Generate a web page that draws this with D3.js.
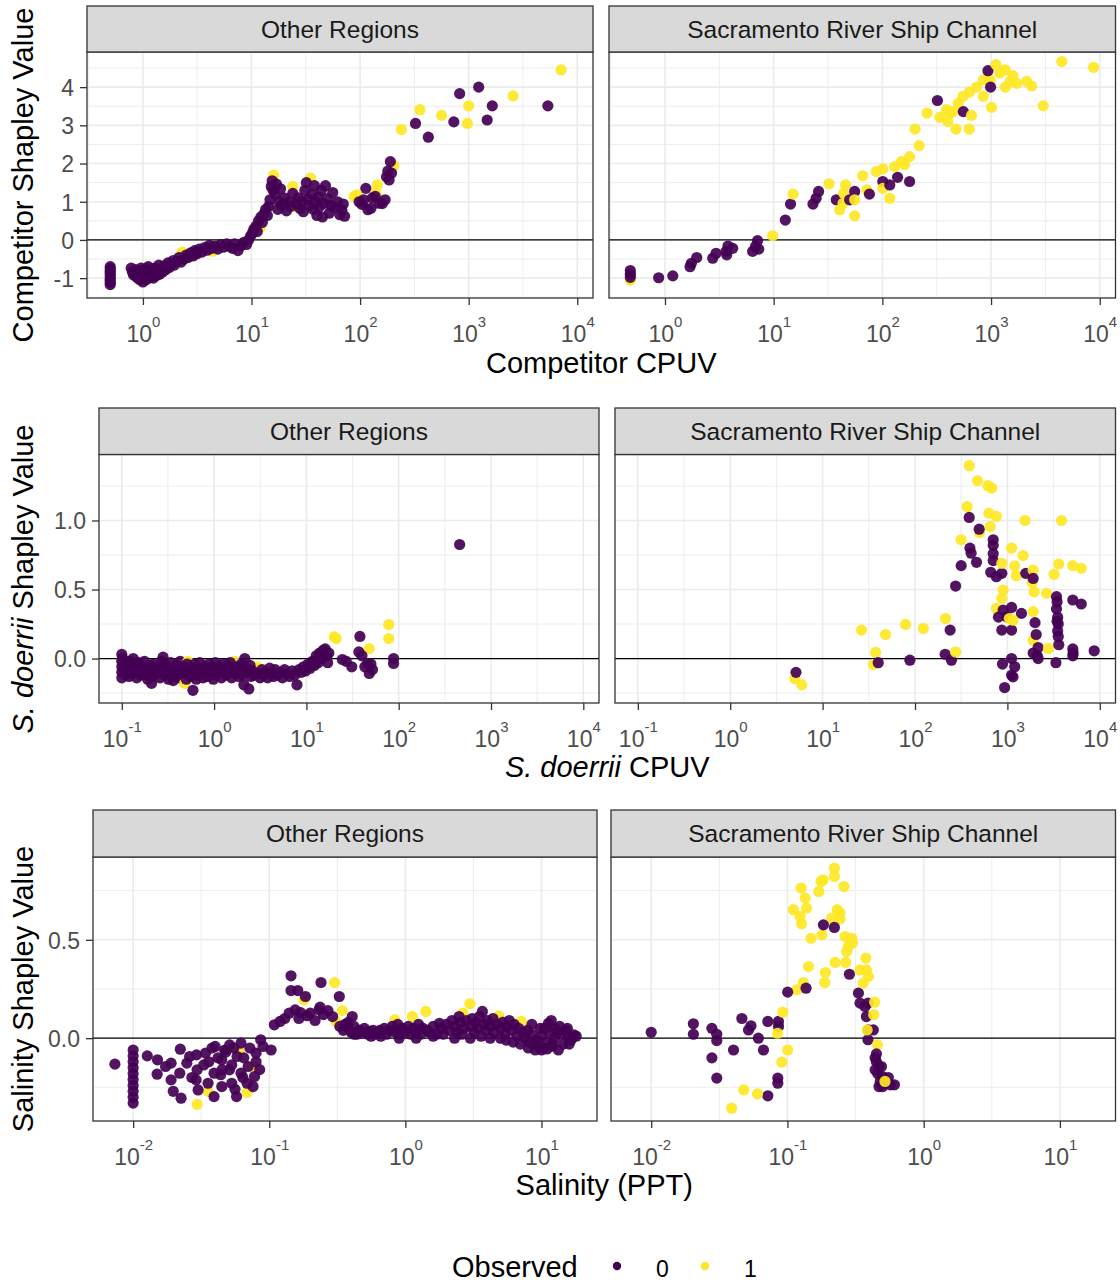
<!DOCTYPE html>
<html>
<head>
<meta charset="utf-8">
<script src="https://cdn.jsdelivr.net/npm/d3@7"></script>
<style>
  body { margin: 0; background: #ffffff; }
  svg { display: block; }
  text { font-family: "Liberation Sans", Arial, sans-serif; }
</style>
</head>
<body>
<svg id="chart" width="1120" height="1283"></svg>
<script>
// Facet labels
const regions = ["Other Regions", "Sacramento River Ship Channel"];
const observedLevels = ["0", "1"];

// Each point: [predictor value, Shapley value, observed (0/1)]
const competitorOther = [
  [0.5,-0.7,0],[0.5,-0.76,0],[0.5,-0.82,0],[0.5,-0.88,0],[0.5,-0.94,0],[0.5,-1.0,0],[0.5,-1.06,0],[0.5,-1.12,0],[0.5,-1.17,0],
  [2.3,-0.32,1],[4.4,-0.3,1],[12.0,0.32,1],[16.0,1.7,1],[24,1.4,1],[25,0.87,1],[35,1.62,1],
  [0.78,-0.74,0],[0.8,-0.84,0],[0.82,-0.92,0],[0.86,-0.78,0],[0.88,-0.98,0],[0.9,-0.86,0],[0.93,-1.04,0],[0.96,-0.74,0],
  [0.98,-0.95,0],[1.0,-1.1,0],[1.0,-1.0,0],[1.02,-0.84,0],[1.05,-0.76,0],[1.08,-1.04,0],[1.1,-0.92,0],[1.12,-0.7,0],
  [1.15,-0.98,0],[1.18,-0.8,0],[1.22,-0.9,0],[1.25,-1.0,0],[1.28,-0.74,0],[1.32,-0.94,0],[1.35,-0.82,0],[1.4,-0.66,0],
  [1.42,-0.9,0],[1.48,-0.76,0],[1.52,-0.84,0],[1.58,-0.68,0],[1.62,-0.78,0],[1.7,-0.6,0],[1.75,-0.72,0],[1.82,-0.64,0],
  [1.9,-0.54,0],[1.95,-0.66,0],[2.05,-0.56,0],[2.15,-0.46,0],[2.25,-0.58,0],[2.4,-0.5,0],[2.5,-0.4,0],[2.6,-0.46,0],
  [2.75,-0.34,0],[2.9,-0.42,0],[3.0,-0.28,0],[3.15,-0.36,0],[3.3,-0.24,0],[3.5,-0.32,0],[3.7,-0.2,0],[3.9,-0.27,0],
  [4.1,-0.14,0],[4.3,-0.22,0],[4.6,-0.16,0],[4.9,-0.24,0],[5.2,-0.12,0],[5.5,-0.19,0],[5.9,-0.1,0],[6.3,-0.17,0],
  [6.7,-0.22,0],[7.0,-0.1,0],[7.5,-0.28,0],[8.0,-0.15,0],[8.5,-0.06,0],[9.0,-0.12,0],[9.4,0.0,0],[9.8,0.1,0],
  [10.2,0.18,0],[10.5,0.28,0],[11.0,0.36,0],[11.3,0.22,0],[11.6,0.5,0],[12.2,0.6,0],[12.6,0.46,0],[13.0,0.68,0],
  [13.5,0.8,0],[14.0,0.64,0],[14.4,0.88,0],[14.8,1.05,0],[15.2,1.4,0],[15.5,1.55,0],[15.8,1.3,0],[16.5,1.2,0],
  [17,1.46,0],[17.5,0.8,0],[18,1.0,0],[18.5,1.34,0],[19,0.9,0],[20,1.1,0],[21,0.76,0],[22,1.0,0],[23,0.88,0],
  [24,1.22,0],[26,0.95,0],[27,1.1,0],[28,0.82,0],[29,1.02,0],[30,0.74,0],[31,1.3,0],[32,1.5,0],[33,1.06,0],
  [34,0.9,0],[36,1.2,0],[37,0.8,0],[38,1.42,0],[39,1.0,0],[40,0.64,0],[41,1.12,0],[42,0.86,0],[44,1.3,0],
  [45,0.6,0],[46,0.95,0],[48,1.42,0],[50,1.08,0],[52,0.7,0],[54,0.9,0],[56,1.24,0],[58,0.86,0],[62,1.0,0],
  [65,0.66,0],[68,0.78,0],[70,0.94,0],[72,0.62,0],
  [88,1.14,1],[94,1.18,1],[140,1.22,1],[144,1.44,1],[205,1.95,1],
  [98,1.0,0],[104,0.93,0],[108,1.05,0],[113,1.35,0],[118,0.79,0],[126,0.83,0],[130,1.1,0],[138,1.14,0],
  [150,0.96,0],[160,0.95,0],[170,1.05,0],[175,1.65,0],[180,1.8,0],[185,1.57,0],[190,2.05,0],[195,1.75,0],
  [240,2.89,1],[324,3.05,0],[356,3.41,1],[425,2.69,0],[563,3.26,1],[730,3.09,0],[826,3.83,0],[974,3.05,1],
  [1000,3.51,1],[1237,4.0,0],[1480,3.14,0],[1650,3.51,0],[2570,3.77,1],[5360,3.51,0],[7100,4.45,1]
];

const competitorShip = [
  [0.48,-1.05,1],[0.48,-0.8,0],[0.48,-0.9,0],[0.48,-0.98,0],
  [0.875,-0.99,0],[1.18,-0.94,0],[1.7,-0.7,0],[1.75,-0.61,0],[1.96,-0.46,0],
  [2.75,-0.48,0],[2.95,-0.35,0],[3.65,-0.3,0],[3.8,-0.16,0],[4.2,-0.22,0],[3.7,-0.39,0],
  [6.4,-0.3,0],[7.1,-0.02,0],[7.3,-0.24,0],[6.8,-0.17,0],
  [9.8,0.11,1],[12.8,0.52,0],[14.3,0.94,0],[15.1,1.2,1],
  [23,0.94,0],[24.6,1.09,0],[25.9,1.27,0],[32.3,1.47,1],
  [37.7,1.05,0],[40.5,0.79,1],[43.5,0.96,1],[45.8,1.44,1],[44,1.22,1],[50,1.05,0],[55.6,1.27,0],[55.6,1.05,1],[55.6,0.63,1],
  [66,1.68,1],[72,1.31,1],[76,1.2,0],
  [88,1.79,1],[101,1.86,1],[101,1.53,0],[101,1.35,1],[117,1.44,0],[117,1.09,1],[138,1.64,0],[130,1.92,1],
  [150,2.05,1],[160,1.97,1],[178,2.18,1],[178,1.53,0],
  [200,2.9,1],[218,2.47,1],[258,3.32,1],[321,3.65,0],
  [338,3.21,1],[389,3.41,1],[400,3.1,1],[447,3.36,1],[476,2.9,1],[420,3.32,1],[500,3.58,1],[553,3.76,1],
  [556,3.36,0],[634,3.87,1],[630,2.9,1],[660,3.26,1],[737,4.0,1],[850,4.19,1],[850,3.76,1],[980,4.19,1],
  [937,4.43,0],[990,4.0,0],[1010,3.47,1],[1110,4.59,1],[1200,4.37,1],[1350,4.45,1],[1350,4.0,1],[1500,4.15,1],
  [1590,4.3,1],[1720,4.1,1],[2130,4.15,1],[2360,4.03,1],[3020,3.51,1],[4480,4.67,1],[8770,4.52,1]
];

const doerriiOther = [
  [0.1,0.03,0],[0.1,-0.02,0],[0.1,-0.06,0],[0.1,-0.1,0],[0.1,-0.14,0],[0.102,0.0,0],[0.105,-0.08,0],
  [0.11,-0.12,0],[0.112,-0.04,0],[0.115,-0.09,0],[0.12,-0.13,0],[0.122,-0.02,0],[0.125,-0.07,0],
  [0.13,-0.11,0],[0.133,0.0,0],[0.137,-0.05,0],[0.14,-0.1,0],[0.145,-0.14,0],[0.15,-0.03,0],[0.155,-0.08,0],
  [0.16,-0.12,0],[0.165,-0.06,0],[0.17,-0.1,0],[0.176,-0.02,0],[0.18,-0.07,0],[0.186,-0.12,0],[0.19,-0.15,0],
  [0.2,-0.05,0],[0.205,-0.09,0],[0.21,-0.18,0],[0.215,-0.13,0],[0.22,-0.04,0],[0.23,-0.08,0],[0.24,-0.11,0],
  [0.25,-0.06,0],[0.26,-0.14,0],[0.27,-0.02,0],[0.28,0.01,0],[0.285,-0.09,0],[0.29,-0.12,0],[0.3,-0.05,0],
  [0.31,-0.1,0],[0.32,-0.15,0],[0.33,-0.07,0],[0.34,-0.03,0],[0.35,-0.11,0],[0.36,-0.16,0],[0.37,-0.08,0],
  [0.38,-0.13,0],[0.39,-0.05,0],[0.4,-0.1,0],[0.42,-0.14,0],[0.43,-0.02,0],[0.44,-0.08,0],[0.46,-0.12,0],
  [0.48,-0.18,1],[0.52,-0.02,1],[1.65,-0.02,1],[2.8,-0.08,1],[2.9,-0.06,1],
  [0.47,-0.06,0],[0.49,-0.1,0],[0.5,-0.15,0],[0.51,-0.04,0],[0.53,-0.09,0],[0.55,-0.13,0],[0.57,-0.07,0],
  [0.59,-0.23,0],[0.6,-0.11,0],[0.62,-0.04,0],[0.64,-0.15,0],[0.66,-0.08,0],[0.68,-0.12,0],[0.7,-0.03,0],
  [0.73,-0.1,0],[0.76,-0.14,0],[0.79,-0.06,0],[0.82,-0.09,0],[0.85,-0.13,0],[0.88,-0.04,0],[0.92,-0.11,0],
  [0.95,-0.07,0],[0.98,-0.15,0],[1.0,-0.09,0],[1.03,-0.03,0],[1.07,-0.12,0],[1.1,-0.06,0],[1.15,-0.1,0],
  [1.2,-0.14,0],[1.25,-0.04,0],[1.3,-0.08,0],[1.35,-0.12,0],[1.4,-0.05,0],[1.45,-0.1,0],[1.5,-0.03,0],
  [1.55,-0.14,0],[1.6,-0.07,0],[1.7,-0.11,0],[1.78,-0.06,0],[1.85,-0.13,0],[1.9,-0.09,0],[1.98,-0.04,0],
  [2.05,-0.12,0],[2.1,-0.19,0],[2.15,0.0,0],[2.2,-0.07,0],[2.3,-0.1,0],[2.38,-0.22,0],[2.45,-0.05,0],
  [2.5,-0.13,0],[2.6,-0.09,0],[2.7,-0.12,0],[3.0,-0.11,0],[3.15,-0.14,0],[3.3,-0.08,0],[3.45,-0.12,0],
  [3.6,-0.1,0],[3.8,-0.14,0],[4.0,-0.07,0],[4.2,-0.11,0],[4.4,-0.13,0],[4.6,-0.08,0],[4.9,-0.12,0],
  [5.2,-0.1,0],[5.5,-0.14,0],[5.8,-0.08,0],[6.2,-0.11,0],[6.6,-0.13,0],[7.0,-0.09,0],[7.5,-0.12,0],
  [7.9,-0.19,0],[8.3,-0.08,0],[8.8,-0.1,0],[9.3,-0.06,0],[9.8,-0.09,0],[10.4,-0.04,0],[11.0,-0.07,0],
  [11.6,-0.02,0],[12.2,-0.05,0],[12.8,0.02,0],[13.4,-0.03,0],[13.9,0.04,0],[14.5,0.0,0],[15.2,0.06,0],
  [16.0,0.07,0],[16.5,0.02,0],[17,-0.03,0],[17.5,0.04,0],
  [20,0.157,1],[21,0.145,1],[48,0.072,1],[78,0.246,1],[78,0.145,1],
  [24.5,-0.007,0],[27,-0.02,0],[31,-0.06,0],[38,0.16,0],[37,0.048,0],[40,0.02,0],[43,-0.06,0],[46,-0.036,0],
  [48,-0.108,0],[50,-0.04,0],[52,-0.08,0],[88,0.0,0],[88,-0.036,0],[457,0.826,0]
];

const doerriiShip = [
  [5.0,-0.145,1],[5.94,-0.19,1],[5.15,-0.1,0],
  [26.4,0.206,1],[37.5,0.044,1],[35.5,-0.044,1],[40,-0.03,0],[48,0.174,1],[79,0.247,1],[88,-0.012,0],[123,0.218,1],
  [214,0.29,1],[212,0.031,0],[240,0.206,0],[248,-0.012,0],[275,0.048,1],[275,0.525,0],
  [316,0.86,1],[316,0.673,0],[367,1.1,1],[386,1.397,1],[386,1.022,0],[393,0.8,0],[405,0.763,0],[463,0.697,0],
  [475,1.288,1],[500,0.913,1],[495,0.937,0],
  [616,1.252,1],[676,1.235,1],[631,1.053,1],[760,1.03,1],[650,0.956,1],
  [702,0.86,0],[702,0.82,0],[702,0.76,0],[702,0.71,0],[660,0.625,0],[760,0.593,0],[870,0.617,0],
  [870,0.69,1],[900,0.496,1],[870,0.436,1],[760,0.363,1],
  [900,0.351,0],[1110,0.37,0],[990,0.3,0],[800,0.3,0],[870,0.206,0],[1110,0.206,0],[1420,0.327,0],
  [1050,0.29,1],[1150,0.278,1],
  [885,-0.04,0],[1110,0,0],[1200,-0.06,0],[1110,-0.12,0],[1150,-0.133,0],[933,-0.21,0],
  [1110,0.8,1],[1200,0.67,1],[1250,0.6,1],[1550,1.0,1],[1480,0.746,1],[1580,0.617,0],[1900,0.64,1],
  [1850,0.55,1],[1950,0.484,1],[1900,0.58,0],
  [1900,0.34,1],[1900,0.133,1],[1990,0.26,0],[2050,0.174,0],[1900,0.04,0],[2100,0.02,0],[2150,0.08,0],
  [2150,0.0,0],[2780,0.073,1],
  [2650,0.472,1],[3200,0.61,1],[3600,0.685,1],[3850,1.0,1],
  [3400,0.448,0],[3450,0.41,0],[3400,0.36,0],[3500,0.3,0],[3450,0.27,0],[3550,0.25,0],[3500,0.2,0],
  [3550,0.16,0],[3600,0.1,0],[3350,-0.03,0],
  [5100,0.673,1],[6300,0.654,1],
  [5100,0.424,0],[6300,0.395,0],[5100,0.07,0],[5150,0.04,0],[5100,0.02,0],[8700,0.056,0]
];

const salinityOther = [
  [0.0295,-0.336,1],[0.0355,-0.27,1],[0.06,-0.068,1],[0.0687,-0.276,1],[0.0759,-0.144,1],
  [0.00734,-0.132,0],
  [0.01,-0.06,0],[0.01,-0.09,0],[0.01,-0.12,0],[0.01,-0.15,0],[0.01,-0.18,0],[0.01,-0.21,0],[0.01,-0.24,0],
  [0.01,-0.27,0],[0.01,-0.3,0],[0.01,-0.33,0],
  [0.0127,-0.09,0],[0.0151,-0.11,0],[0.015,-0.183,0],[0.0173,-0.144,0],[0.019,-0.127,0],[0.019,-0.212,0],
  [0.0197,-0.27,0],[0.0222,-0.056,0],[0.0225,-0.305,0],[0.022,-0.178,0],[0.0248,-0.127,0],[0.026,-0.093,0],
  [0.0292,-0.085,0],[0.0295,-0.161,0],[0.029,-0.212,0],[0.03,-0.263,0],[0.034,-0.076,0],[0.033,-0.136,0],
  [0.0393,-0.297,0],[0.038,-0.05,0],[0.04,-0.042,0],[0.0448,-0.246,0],[0.044,-0.186,0],[0.0448,-0.11,0],
  [0.047,-0.06,0],[0.0512,-0.034,0],[0.053,-0.136,0],[0.0575,-0.297,0],[0.058,-0.093,0],[0.062,-0.025,0],
  [0.0687,-0.229,0],[0.07,-0.144,0],[0.078,-0.195,0],[0.08,-0.076,0],[0.0865,-0.008,0],[0.09,-0.042,0],
  [0.1032,-0.06,0],[0.053,-0.229,0],[0.051,-0.161,0],[0.062,-0.178,0],[0.076,-0.246,0],[0.0393,-0.178,0],
  [0.0355,-0.229,0],[0.042,-0.1,0],[0.045,-0.16,0],[0.048,-0.07,0],[0.055,-0.05,0],[0.065,-0.1,0],
  [0.072,-0.05,0],[0.08,-0.12,0],[0.085,-0.16,0],[0.036,-0.12,0],[0.027,-0.2,0],[0.064,-0.2,0],[0.056,-0.26,0],
  [0.18,0.195,1],[0.302,0.283,1],[0.344,0.14,1],[0.31,0.085,1],
  [0.109,0.068,0],[0.12,0.085,0],[0.13,0.1,0],[0.1445,0.242,0],[0.14,0.127,0],[0.1445,0.317,0],[0.162,0.242,0],
  [0.155,0.144,0],[0.1845,0.212,0],[0.19,0.114,0],[0.2,0.127,0],[0.217,0.09,0],[0.232,0.144,0],[0.24,0.283,0],
  [0.236,0.158,0],[0.292,0.11,0],[0.327,0.212,0],[0.407,0.11,0],[0.17,0.13,0],[0.165,0.1,0],[0.25,0.12,0],
  [0.27,0.14,0],
  [0.837,0.093,1],[1.125,0.11,1],[1.416,0.136,1],[2.65,0.127,1],[2.98,0.175,1],[4.85,0.114,1],[7.1,0.085,1],
  [10.5,0.03,1],
  [0.33,0.06,0],[0.35,0.04,0],[0.36,0.07,0],[0.38,0.05,0],[0.4,0.03,0],[0.42,0.06,0],[0.44,0.02,0],[0.46,0.04,0],
  [0.48,0.03,0],[0.5,0.05,0],[0.53,0.02,0],[0.56,0.01,0],[0.58,0.04,0],[0.6,0.02,0],[0.63,0.03,0],[0.66,0.01,0],
  [0.7,0.05,0],[0.73,0.02,0],[0.76,0.04,0],[0.8,0.06,0],[0.85,0.03,0],[0.88,0.07,0],[0.9,0.02,0],[0.95,0.05,0],
  [1.0,0.03,0],[1.05,0.06,0],[1.1,0.02,0],[1.15,0.05,0],[1.2,0.03,0],[1.25,0.07,0],[1.3,0.02,0],[1.35,0.05,0],
  [1.45,0.04,0],[1.5,0.03,0],[1.6,0.06,0],[1.7,0.02,0],[1.78,0.076,0],[1.85,0.05,0],[1.9,0.02,0],[2.0,0.07,0],
  [2.1,0.04,0],[2.2,0.09,0],[2.3,0.06,0],[2.4,0.03,0],[2.48,0.11,0],[2.55,0.08,0],[2.7,0.05,0],[2.8,0.09,0],
  [3.0,0.06,0],[3.1,0.1,0],[3.2,0.03,0],[3.3,0.08,0],[3.4,0.05,0],[3.5,0.11,0],[3.68,0.136,0],[3.8,0.07,0],
  [3.9,0.04,0],[4.0,0.09,0],[4.2,0.06,0],[4.4,0.1,0],[4.5,0.03,0],[4.7,0.07,0],[5.0,0.05,0],[5.2,0.08,0],
  [5.4,0.02,0],[5.6,0.06,0],[5.8,0.09,0],[6.0,0.04,0],[6.3,0.07,0],[6.6,0.01,0],[6.8,0.05,0],[7.3,0.03,0],
  [7.6,0.0,0],[7.9,0.04,0],[8.2,-0.02,0],[8.5,0.02,0],[8.8,-0.03,0],[9.25,-0.008,0],[9.5,-0.04,0],[10,0.01,0],
  [10.4,-0.05,0],[10.8,-0.02,0],[11.25,0.076,0],[11.5,0.03,0],[12,-0.04,0],[12.5,0.0,0],[13.3,-0.06,0],
  [13.6,0.06,0],[14,0.02,0],[14.5,-0.03,0],[15,0.04,0],[15.8,0.008,0],[16.5,-0.01,0],[17.3,0.017,0],[18,0.01,0],
  [2.3,0.0,0],[2.6,0.02,0],[3.0,0.0,0],[3.6,0.01,0],[4.2,0.0,0],[5.0,0.0,0],[5.5,-0.01,0],[6.2,-0.02,0],
  [7.0,-0.03,0],[8.0,-0.05,0],[9.0,-0.06,0],[10,-0.06,0],[11,-0.055,0],[12,-0.03,0],[9.8,0.05,0],[8.5,0.07,0],
  [10.5,0.05,0],[12.5,0.05,0],[11.8,0.09,0],[13,0.03,0],[15.5,0.05,0],[16,-0.03,0],[0.65,0.04,0],[0.9,0.0,0],
  [1.2,0.0,0],[1.6,0.01,0],[0.55,0.035,0],[0.42,0.02,0],[0.38,0.08,0]
];

const salinityShip = [
  [0.01,0.03,0],[0.0204,0.073,0],[0.0204,0.02,0],[0.0279,0.05,0],[0.0303,0.02,0],[0.0303,-0.012,0],
  [0.0279,-0.1,0],[0.0303,-0.203,0],
  [0.0402,-0.06,0],[0.0463,0.1,0],[0.0518,0.042,0],[0.054,0.063,0],[0.0612,0,0],[0.0667,-0.06,0],
  [0.0718,0.085,0],[0.0718,-0.293,0],[0.0859,0.085,0],[0.086,0.06,0],[0.085,-0.203,0],[0.085,-0.229,0],
  [0.039,-0.356,1],[0.0478,-0.263,1],[0.0603,-0.283,1],
  [0.0846,0.025,1],[0.0925,0.132,1],[0.091,-0.122,1],[0.1004,-0.06,1],
  [0.117,0.246,1],[0.131,0.283,1],[0.1427,0.364,1],[0.149,0.508,1],[0.1105,0.653,1],[0.124,0.619,1],
  [0.127,0.581,1],[0.126,0.763,1],[0.135,0.712,1],[0.138,0.661,1],
  [0.1004,0.234,0],[0.137,0.254,0],
  [0.17,0.746,1],[0.1766,0.797,1],[0.183,0.805,1],[0.221,0.864,1],[0.221,0.822,1],[0.26,0.771,1],
  [0.179,0.525,1],[0.211,0.61,1],[0.232,0.653,1],[0.243,0.636,1],[0.243,0.605,1],
  [0.1837,0.576,0],[0.221,0.563,0],
  [0.265,0.517,1],[0.297,0.508,1],[0.28,0.466,1],[0.272,0.44,1],[0.3,0.483,1],
  [0.224,0.385,1],[0.268,0.385,1],[0.19,0.334,1],[0.188,0.283,1],
  [0.285,0.325,0],
  [0.376,0.407,1],[0.341,0.347,1],[0.38,0.347,1],[0.393,0.314,1],[0.36,0.28,1],
  [0.332,0.229,0],[0.341,0.178,0],[0.371,0.161,0],[0.38,0.11,0],[0.39,0.178,0],[0.393,0.042,0],
  [0.427,0.042,0],[0.39,-0.008,0],
  [0.437,0.183,1],[0.43,0.119,1],[0.457,-0.034,1],[0.385,0.042,1],
  [0.44,-0.1,0],[0.45,-0.12,0],[0.47,-0.144,0],[0.44,-0.161,0],[0.46,-0.18,0],[0.49,-0.144,0],
  [0.5,-0.195,0],[0.48,-0.22,0],[0.52,-0.229,0],[0.57,-0.237,0],[0.61,-0.237,0],[0.55,-0.2,0],
  [0.47,-0.246,0],[0.5,-0.246,0],[0.45,-0.08,0],
  [0.52,-0.22,1]
];

// Tick values and labels
const competitorYTicks = [-1, 0, 1, 2, 3, 4];
const doerriiYTicks = [0, 0.5, 1.0];
const salinityYTicks = [0, 0.5];
const competitorXExp = [0, 1, 2, 3, 4];
const doerriiXExp = [-1, 0, 1, 2, 3, 4];
const salinityXExp = [-2, -1, 0, 1];

const colors = { "0": "#440154", "1": "#FDE725" };

// Layout of the three faceted rows
const rows = [
  {
    stripTop: 6, panelTop: 52, panelBottom: 298,
    panels: [[87, 593], [609, 1115.5]],
    xLog: [-0.515, 4.145], yDom: [-1.52, 4.92],
    yTicks: competitorYTicks, yFmt: d => d < 0 ? "-" + Math.abs(d) : String(d), yStep: 1,
    xExp: competitorXExp, data: [competitorOther, competitorShip],
    xTitle: [["Competitor CPUV", false]], yTitle: [["Competitor Shapley Value", false]],
    xTitleY: 373, yTitleCy: 175
  },
  {
    stripTop: 408, panelTop: 454.5, panelBottom: 703,
    panels: [[99, 599], [615, 1115.5]],
    xLog: [-1.247, 4.17], yDom: [-0.322, 1.478],
    yTicks: doerriiYTicks, yFmt: d3.format(".1f"), yStep: 0.5,
    xExp: doerriiXExp, data: [doerriiOther, doerriiShip],
    xTitle: [["S. doerrii", true], [" CPUV", false]],
    yTitle: [["S. doerrii", true], [" Shapley Value", false]],
    xTitleY: 777, yTitleCy: 579
  },
  {
    stripTop: 810, panelTop: 857, panelBottom: 1121,
    panels: [[93, 597], [611, 1115.5]],
    xLog: [-2.295, 1.408], yDom: [-0.421, 0.921],
    yTicks: salinityYTicks, yFmt: d3.format(".1f"), yStep: 0.5,
    xExp: salinityXExp, data: [salinityOther, salinityShip],
    xTitle: [["Salinity (PPT)", false]], yTitle: [["Salinity Shapley Value", false]],
    xTitleY: 1195, yTitleCy: 989
  }
];

const svg = d3.select("#chart");
svg.append("rect").attr("width", 1120).attr("height", 1283).attr("fill", "#ffffff");

const gridColor = "#EBEBEB";
const borderColor = "#333333";

function addRichText(textSel, parts) {
  parts.forEach(([str, italic]) => {
    textSel.append("tspan")
      .attr("font-style", italic ? "italic" : "normal")
      .style("white-space", "pre")
      .text(str);
  });
}

rows.forEach(row => {
  row.panels.forEach((range, pi) => {
    const x = d3.scaleLog().domain([Math.pow(10, row.xLog[0]), Math.pow(10, row.xLog[1])]).range(range);
    const y = d3.scaleLinear().domain(row.yDom).range([row.panelBottom, row.panelTop]);
    const g = svg.append("g");
    const [x0, x1] = range;

    // minor grid: half-decades on x, half-steps on y
    const xMinor = [];
    for (let k = Math.floor(row.xLog[0]) - 1; k <= Math.ceil(row.xLog[1]); k++) {
      const v = k + 0.5;
      if (v > row.xLog[0] && v < row.xLog[1]) xMinor.push(Math.pow(10, v));
    }
    const yMinor = [];
    for (let v = row.yTicks[0] - row.yStep / 2; v < row.yDom[1]; v += row.yStep) {
      if (v > row.yDom[0]) yMinor.push(+v.toFixed(4));
    }
    g.selectAll(".xminor").data(xMinor).join("line")
      .attr("x1", d => x(d)).attr("x2", d => x(d))
      .attr("y1", row.panelTop).attr("y2", row.panelBottom)
      .attr("stroke", gridColor).attr("stroke-width", 0.9);
    g.selectAll(".yminor").data(yMinor).join("line")
      .attr("x1", x0).attr("x2", x1)
      .attr("y1", d => y(d)).attr("y2", d => y(d))
      .attr("stroke", gridColor).attr("stroke-width", 0.9);

    // major grid
    const xMajor = row.xExp.map(e => Math.pow(10, e));
    g.selectAll(".xmajor").data(xMajor).join("line")
      .attr("x1", d => x(d)).attr("x2", d => x(d))
      .attr("y1", row.panelTop).attr("y2", row.panelBottom)
      .attr("stroke", gridColor).attr("stroke-width", 1.6);
    g.selectAll(".ymajor").data(row.yTicks).join("line")
      .attr("x1", x0).attr("x2", x1)
      .attr("y1", d => y(d)).attr("y2", d => y(d))
      .attr("stroke", gridColor).attr("stroke-width", 1.6);

    // reference line at zero
    g.append("line")
      .attr("x1", x0).attr("x2", x1)
      .attr("y1", y(0)).attr("y2", y(0))
      .attr("stroke", "#000000").attr("stroke-width", 1.3);

    // points
    g.append("g").selectAll("circle").data(row.data[pi]).join("circle")
      .attr("cx", d => x(d[0]))
      .attr("cy", d => y(d[1]))
      .attr("r", 5.6)
      .attr("fill", d => colors[String(d[2])])
      .attr("fill-opacity", 0.92);

    // panel border
    g.append("rect")
      .attr("x", x0).attr("y", row.panelTop)
      .attr("width", x1 - x0).attr("height", row.panelBottom - row.panelTop)
      .attr("fill", "none").attr("stroke", borderColor).attr("stroke-width", 1.3);

    // strip
    g.append("rect")
      .attr("x", x0).attr("y", row.stripTop)
      .attr("width", x1 - x0).attr("height", row.panelTop - row.stripTop)
      .attr("fill", "#D9D9D9").attr("stroke", borderColor).attr("stroke-width", 1.3);
    g.append("text")
      .attr("x", (x0 + x1) / 2)
      .attr("y", (row.stripTop + row.panelTop) / 2 + 8.6)
      .attr("text-anchor", "middle")
      .attr("font-size", 24.5)
      .attr("fill", "#1A1A1A")
      .text(regions[pi]);

    // bottom axis with superscript powers of ten
    const xAxis = g.append("g")
      .attr("transform", `translate(0,${row.panelBottom})`)
      .call(d3.axisBottom(x).tickValues(xMajor).tickSize(7).tickFormat(""));
    xAxis.select(".domain").remove();
    xAxis.selectAll(".tick line").attr("stroke", borderColor).attr("stroke-width", 1.3);
    xAxis.selectAll(".tick").each(function (d) {
      const t = d3.select(this).select("text");
      t.attr("y", 44).attr("dy", null)
        .attr("font-size", 23).attr("fill", "#4D4D4D")
        .attr("font-family", "Liberation Sans, Arial, sans-serif")
        .text(null);
      t.append("tspan").text("10");
      t.append("tspan").attr("dy", -15).attr("font-size", 15)
        .text(String(Math.round(Math.log10(d))));
    });

    // left axis only on the first facet of a row
    if (pi === 0) {
      const yAxis = g.append("g")
        .attr("transform", `translate(${x0},0)`)
        .call(d3.axisLeft(y).tickValues(row.yTicks).tickSize(7).tickPadding(6).tickFormat(row.yFmt));
      yAxis.select(".domain").remove();
      yAxis.selectAll(".tick line").attr("stroke", borderColor).attr("stroke-width", 1.3);
      yAxis.selectAll(".tick text")
        .attr("font-size", 23).attr("fill", "#4D4D4D")
        .attr("font-family", "Liberation Sans, Arial, sans-serif")
        .attr("dy", "0.36em");
    }
  });

  // axis titles
  const left = row.panels[0][0], right = row.panels[1][1];
  const xt = svg.append("text")
    .attr("x", (left + right) / 2).attr("y", row.xTitleY)
    .attr("text-anchor", "middle").attr("font-size", 29).attr("fill", "#000000");
  addRichText(xt, row.xTitle);
  const yt = svg.append("text")
    .attr("transform", `translate(33,${row.yTitleCy}) rotate(-90)`)
    .attr("text-anchor", "middle").attr("font-size", 29).attr("fill", "#000000");
  addRichText(yt, row.yTitle);
});

// legend
const legend = svg.append("g");
legend.append("text")
  .attr("x", 452).attr("y", 1277)
  .attr("font-size", 29).attr("fill", "#000000")
  .text("Observed");
const keyX = [617, 705];
observedLevels.forEach((lvl, i) => {
  legend.append("circle")
    .attr("cx", keyX[i]).attr("cy", 1266).attr("r", 4.2)
    .attr("fill", colors[lvl]);
  legend.append("text")
    .attr("x", keyX[i] + 39).attr("y", 1277)
    .attr("font-size", 23).attr("fill", "#000000")
    .text(lvl);
});
</script>
</body>
</html>
